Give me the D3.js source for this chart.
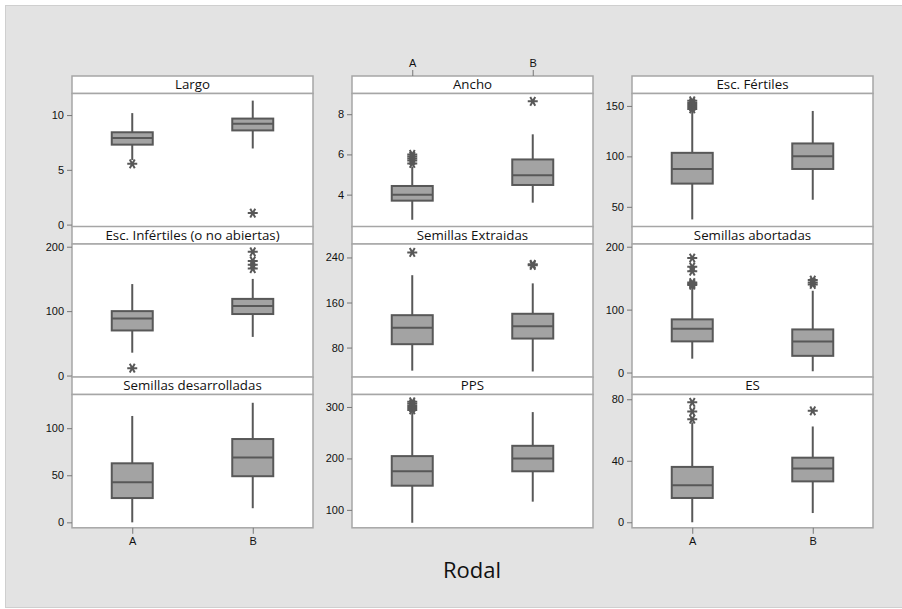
<!doctype html>
<html lang="es">
  <head>
    <meta charset="UTF-8" />
    <title>Boxplots por Rodal</title>
    <script src="https://d3js.org/d3.v7.min.js"></script>
    <style>
      body {
        margin: 0;
        background: #fff;
        font-family: 'Open Sans', 'Noto Sans', sans-serif;
      }
      .tick text {
        font-size: 11px;
        fill: #111;
      }
      .strip-title {
        font-size: 13.3px;
        fill: #111;
      }
    </style>
  </head>
  <body>
    <div id="chart"></div>
    <script>
      // Categories and panels
      const groups = ['A', 'B'];
      const panels = [
        'Largo',
        'Ancho',
        'Esc. Fértiles',
        'Esc. Infértiles (o no abiertas)',
        'Semillas Extraidas',
        'Semillas abortadas',
        'Semillas desarrolladas',
        'PPS',
        'ES',
      ];
      // box statistics per panel, [A, B]
      const whiskerLow = [[5.9, 6.95], [2.75, 3.6], [37.5, 57], [35.5, 60], [39, 37.5], [22, 2], [0, 15], [75, 116], [0, 6]];
      const q1 = [[7.3, 8.6], [3.7, 4.48], [73, 87.5], [70, 95.5], [86, 96], [49.5, 26.5], [25.8, 49], [147, 175], [15.8, 26.6]];
      const median = [[7.9, 9.2], [4.0, 4.96], [87.5, 100], [88.5, 108], [115, 118], [69.5, 49.5], [42.6, 69], [175, 200], [24, 34.9]];
      const q3 = [[8.43, 9.68], [4.43, 5.75], [103.5, 112.8], [100, 119], [137.5, 140], [84.5, 68.5], [62.7, 88.5], [204.5, 224.5], [36, 42]];
      const whiskerHigh = [[10.18, 11.32], [5.4, 7.0], [146, 145], [142, 150], [208.5, 194], [138, 130], [113, 127], [290, 290], [65, 62.3]];
      const outliers = [
        [[5.55], [1.05]],
        [[5.55, 5.7, 5.8, 5.9, 6.0], [8.64]],
        [[147, 149, 151, 153, 155], []],
        [[11.5], [166, 172, 178, 192]],
        [[249], [226, 228]],
        [[139, 141, 143, 161, 168, 182], [140, 143, 147]],
        [[], []],
        [[294, 298, 302, 306, 310], []],
        [[67, 72, 78], [72.5]],
      ];
      const yDomains = [[-0.2, 11.97], [2.4, 9.03], [30.2, 162.3], [-2.7, 204.2], [27.2, 263.9], [-7.6, 204.3], [-5.8, 135.8], [65.2, 324.2], [-3.6, 83.1]];
      const yTicks = [[0, 5, 10], [4, 6, 8], [50, 100, 150], [0, 100, 200], [80, 160, 240], [0, 100, 200], [0, 50, 100], [100, 200, 300], [0, 40, 80]];

      const W = 902;
      const H = 609;
      const colX = [72, 352, 632];
      const rowY = [76, 226.5, 377];
      const panelW = 241;
      const rowH = 150.8;
      const stripH = 17.5;
      const boxW = 41;
      const boxStroke = '#585858';
      const boxFill = '#a3a3a3';
      const frameColor = '#a6a6a6';

      const svg = d3
        .select('#chart')
        .append('svg')
        .attr('width', W)
        .attr('height', H);

      // grey outer background
      svg
        .append('rect')
        .attr('x', 5.5)
        .attr('y', 5.5)
        .attr('width', W)
        .attr('height', 602)
        .attr('fill', '#e3e3e3')
        .attr('stroke', '#cfcfcf');

      const x = d3
        .scalePoint()
        .domain(groups)
        .range([0, panelW])
        .padding(0.5);

      const star = d3.symbol(d3.symbolAsterisk, 70);

      panels.forEach((name, i) => {
        const col = i % 3;
        const row = Math.floor(i / 3);
        const g = svg
          .append('g')
          .attr('transform', `translate(${colX[col]},${rowY[row]})`);

        const plotTop = stripH;
        const plotBottom = rowH;
        const y = d3
          .scaleLinear()
          .domain(yDomains[i])
          .range([plotBottom, plotTop]);

        // strip
        g.append('rect')
          .attr('width', panelW)
          .attr('height', stripH)
          .attr('fill', '#fff')
          .attr('stroke', frameColor)
          .attr('stroke-width', 1.5);
        g.append('text')
          .attr('class', 'strip-title')
          .attr('x', panelW / 2)
          .attr('y', stripH / 2 + 4.7)
          .attr('text-anchor', 'middle')
          .text(name);

        // plot area
        g.append('rect')
          .attr('y', plotTop)
          .attr('width', panelW)
          .attr('height', plotBottom - plotTop)
          .attr('fill', '#fff')
          .attr('stroke', frameColor)
          .attr('stroke-width', 1.5);

        // y axis
        const ya = g
          .append('g')
          .call(
            d3
              .axisLeft(y)
              .tickValues(yTicks[i])
              .tickFormat(d3.format('d'))
              .tickSize(5)
              .tickPadding(3),
          );
        ya.select('.domain').remove();
        ya.selectAll('line').attr('stroke', '#777');

        groups.forEach((grp, j) => {
          const cx = x(grp);
          // whisker
          g.append('line')
            .attr('x1', cx)
            .attr('x2', cx)
            .attr('y1', y(whiskerLow[i][j]))
            .attr('y2', y(whiskerHigh[i][j]))
            .attr('stroke', boxStroke)
            .attr('stroke-width', 2);
          // box
          g.append('rect')
            .attr('x', cx - boxW / 2)
            .attr('y', y(q3[i][j]))
            .attr('width', boxW)
            .attr('height', y(q1[i][j]) - y(q3[i][j]))
            .attr('fill', boxFill)
            .attr('stroke', boxStroke)
            .attr('stroke-width', 2);
          // median
          g.append('line')
            .attr('x1', cx - boxW / 2)
            .attr('x2', cx + boxW / 2)
            .attr('y1', y(median[i][j]))
            .attr('y2', y(median[i][j]))
            .attr('stroke', boxStroke)
            .attr('stroke-width', 2);
          // outliers
          g.selectAll(null)
            .data(outliers[i][j])
            .enter()
            .append('path')
            .attr('d', star)
            .attr(
              'transform',
              (d) => `translate(${cx},${y(d)}) rotate(90)`,
            )
            .attr('fill', 'none')
            .attr('stroke', boxStroke)
            .attr('stroke-width', 2);
        });

        // x axis: top of middle column, bottom of outer columns in last row
        if (row === 0 && col === 1) {
          const xa = g
            .append('g')
            .call(d3.axisTop(x).tickSize(6).tickPadding(3));
          xa.select('.domain').remove();
          xa.selectAll('line').attr('stroke', '#777');
        }
        if (row === 2 && col !== 1) {
          const xa = g
            .append('g')
            .attr('transform', `translate(0,${plotBottom})`)
            .call(d3.axisBottom(x).tickSize(6).tickPadding(3));
          xa.select('.domain').remove();
          xa.selectAll('line').attr('stroke', '#777');
        }
      });

      // axis title
      svg
        .append('text')
        .attr('x', 472)
        .attr('y', 578)
        .attr('text-anchor', 'middle')
        .style('font-size', '22px')
        .style('fill', '#111')
        .text('Rodal');
    </script>
  </body>
</html>
